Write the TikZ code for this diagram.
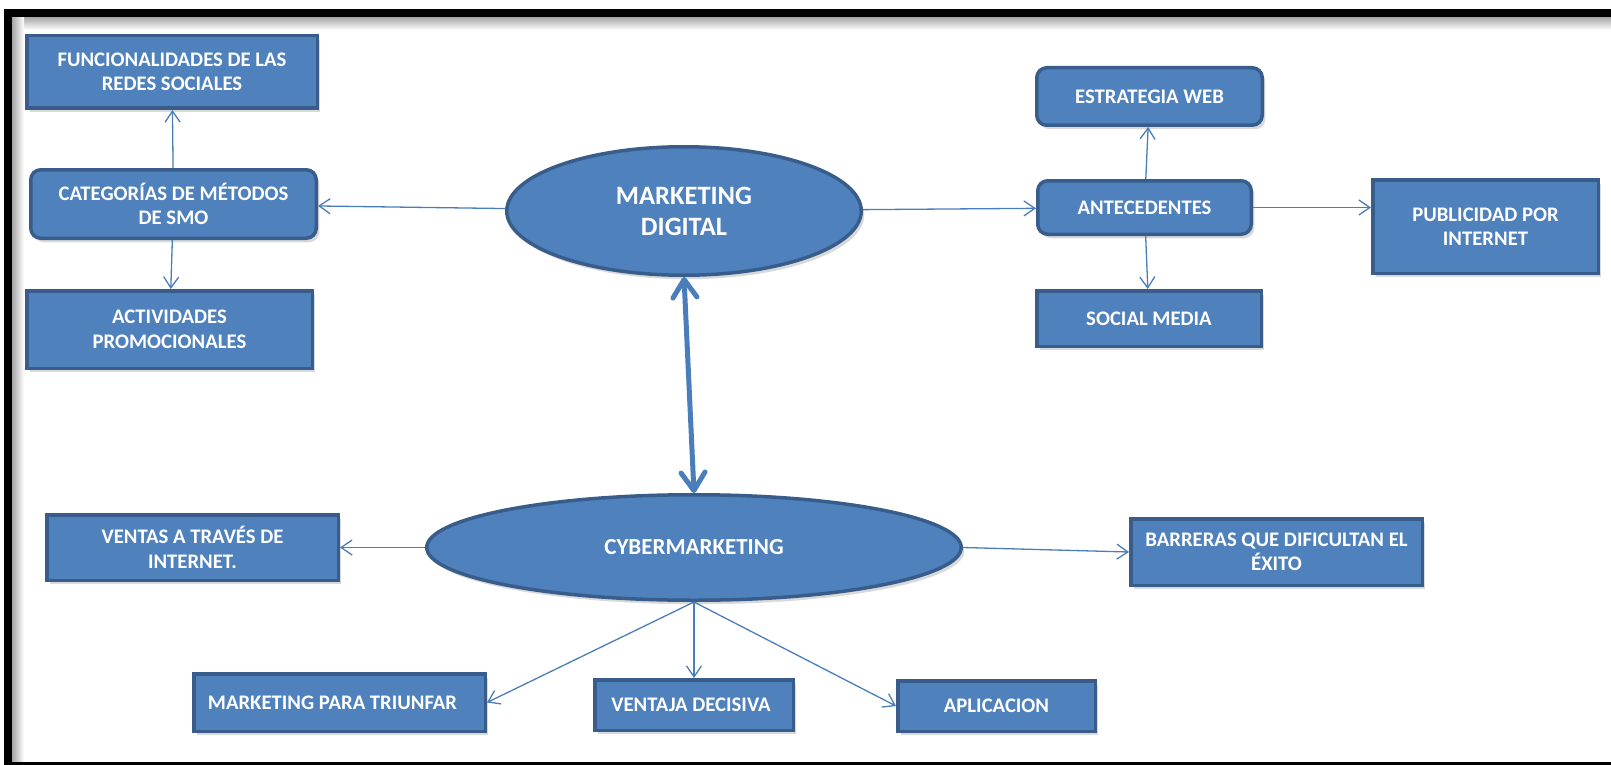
\documentclass[tikz,border=0pt]{standalone}
\usepackage{fontspec}
\setmainfont{Carlito}
\usetikzlibrary{positioning,shapes.geometric,shadows,arrows.meta}

\definecolor{boxfill}{HTML}{4F81BD}
\definecolor{boxline}{HTML}{385D8A}
\definecolor{linkcol}{HTML}{4A7EBB}

\tikzset{
  topic/.style={rectangle, draw=boxline, line width=3.5pt, fill=boxfill,
    text=white, font=\fontsize{20.7}{24.5}\selectfont\bfseries, align=center,
    inner sep=2pt,
    drop shadow={shadow xshift=3pt, shadow yshift=-4pt, opacity=0.3}},
  rtopic/.style={topic, rounded corners=10pt},
  hub/.style={ellipse, draw=boxline, line width=3.5pt, fill=boxfill,
    text=white, align=center, inner sep=1pt,
    drop shadow={shadow xshift=3pt, shadow yshift=-4pt, opacity=0.3}},
  link/.style={draw=linkcol, line width=1.3pt,
    -{Straight Barb[length=11pt,width=15pt]}},
  biglink/.style={draw=linkcol, line width=5pt,
    {Straight Barb[length=18pt,width=24pt,round]}-{Straight Barb[length=18pt,width=24pt,round]}}
}

\begin{document}
\begin{tikzpicture}[x=1pt, y=-1pt]

  \useasboundingbox (0,0) rectangle (1611,765); %

  % Frame
  \shade[top color=black!35, bottom color=white] (12,17) rectangle (1611,30); %
  \shade[left color=black!35, right color=white] (12,17) rectangle (24,762); %
  \draw[line width=8pt] (1640,766) -| (8,13) -- (1640,13); %

  % Layout the hubs
  \node[hub, minimum width=354.5pt, minimum height=128.5pt,
    font=\fontsize{26.5}{31}\selectfont\bfseries] (md) at (684,211)
    {MARKETING\\DIGITAL} ; %
  \node[hub, minimum width=534.5pt, minimum height=105.5pt,
    font=\fontsize{23}{28}\selectfont\bfseries] (cyber) at (694,547.5)
    {CYBERMARKETING} ; %

  % Left group
  \node[rtopic, minimum width=285.5pt, minimum height=68.5pt] (cat) at (173.5,204)
    {CATEGORÍAS DE MÉTODOS\\DE SMO} ; %
  \node[topic, minimum width=290.5pt, minimum height=72.5pt,
    above=58pt of cat, xshift=-1.5pt] (func)
    {FUNCIONALIDADES DE LAS\\REDES SOCIALES} ; %
  \node[topic, minimum width=285.5pt, minimum height=77.5pt,
    below=49pt of cat, xshift=-4pt] (act)
    {ACTIVIDADES\\PROMOCIONALES} ; %

  % Right group
  \node[rtopic, minimum width=213.5pt, minimum height=53.5pt] (ante) at (1144.5,207.5)
    {ANTECEDENTES} ; %
  \node[rtopic, minimum width=225.5pt, minimum height=57.5pt,
    above=52pt of ante, xshift=5pt] (estr)
    {ESTRATEGIA WEB} ; %
  \node[topic, minimum width=224.5pt, minimum height=55.5pt,
    below=53pt of ante, xshift=4.5pt] (social)
    {SOCIAL MEDIA} ; %
  \node[topic, minimum width=225.5pt, minimum height=93.5pt] (publ) at (1485.5,226.5)
    {PUBLICIDAD POR\\INTERNET} ; %

  % Bottom group
  \node[topic, minimum width=291.5pt, minimum height=65.5pt] (ventas) at (192.5,547.5)
    {VENTAS A TRAVÉS DE\\INTERNET.} ; %
  \node[topic, minimum width=291.5pt, minimum height=66.5pt] (barr) at (1276.5,552)
    {BARRERAS QUE DIFICULTAN EL\\ÉXITO} ; %
  \node[topic, minimum width=291.5pt, minimum height=57.5pt] (mpt) at (339.5,702.5)
    {MARKETING PARA TRIUNFAR\hspace*{14pt}} ; %
  \node[topic, minimum width=198.5pt, minimum height=50.5pt] (ventaja) at (694,705)
    {VENTAJA DECISIVA\hspace*{6pt}} ; %
  \node[topic, minimum width=197.5pt, minimum height=50.5pt] (aplic) at (996.5,706)
    {APLICACION} ; %

  % Connections
  \draw[link] (md) -- (cat) ; %
  \draw[link] (cat) -- (func) ; %
  \draw[link] (cat) -- (act) ; %
  \draw[link] (md) -- (ante) ; %
  \draw[link] (ante) -- (estr) ; %
  \draw[link] (ante) -- (social) ; %
  \draw[link] (ante.east) -- (ante.east -| publ.west) ; %
  \draw[biglink] (md.south) -- (cyber.north) ; %
  \draw[link] (cyber.west) -- (ventas.east) ; %
  \draw[link] (cyber.east) -- (barr.west) ; %
  \draw[link] (cyber.south) -- (mpt.east) ; %
  \draw[link] (cyber.south) -- (ventaja.north) ; %
  \draw[link] (cyber.south) -- (aplic.west) ; %

\end{tikzpicture}
\end{document}
